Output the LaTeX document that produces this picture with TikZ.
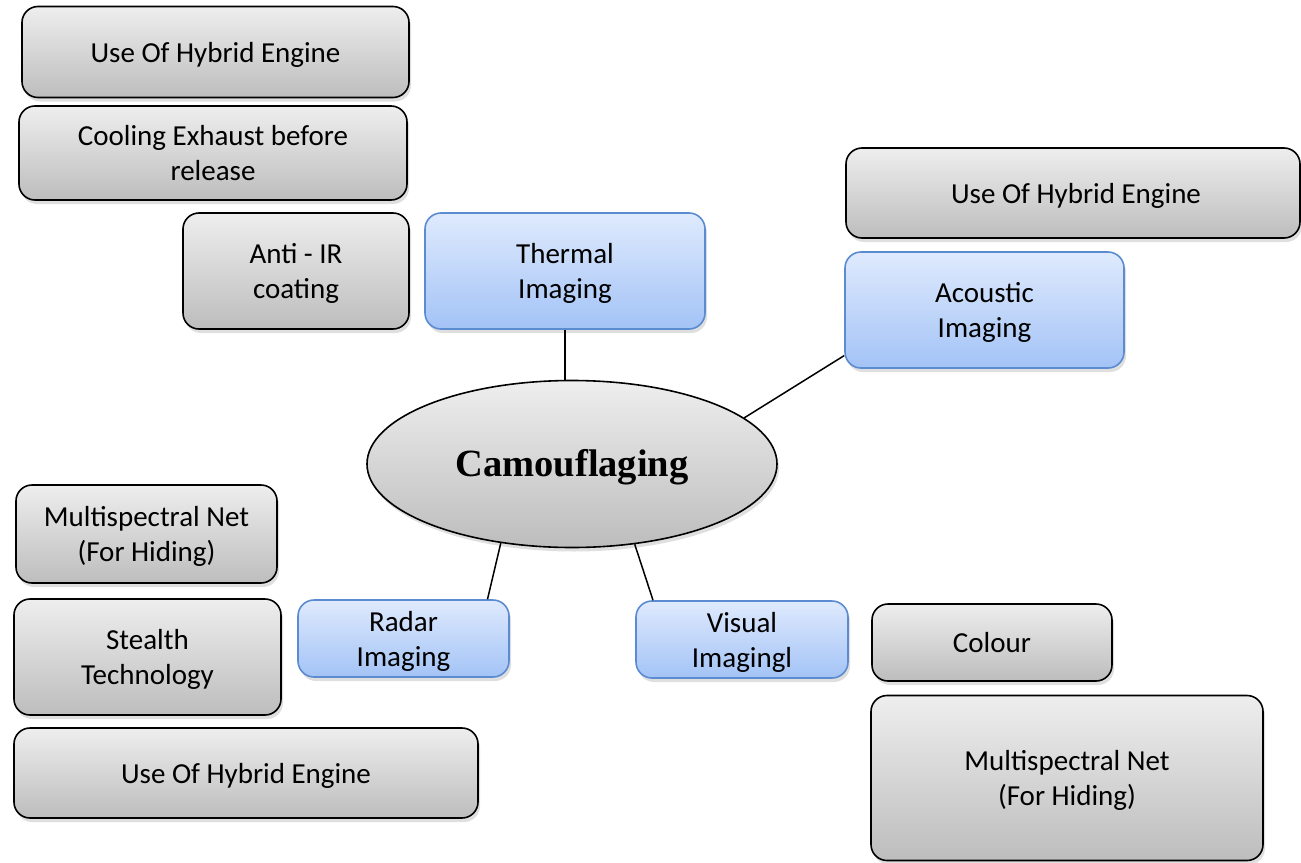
\documentclass[tikz,border=0pt]{standalone}
\usepackage{fontspec}
\setmainfont{Carlito}
\newfontfamily\camfont{Liberation Serif}
\usetikzlibrary{shapes.geometric,shadows,calc}
\definecolor{gtop}{HTML}{EEEEEE}
\definecolor{gbot}{HTML}{BDBDBD}
\definecolor{btop}{HTML}{DFEAFD}
\definecolor{bbot}{HTML}{A3C3F6}
\definecolor{bline}{HTML}{5B8BD0}
\newcommand\lowtxt[2][3pt]{\raisebox{-#1}[\height][\depth]{\begin{tabular}{@{}c@{}}#2\end{tabular}}}
\tikzset{
  base/.style={rectangle, rounded corners=16pt, align=center, inner sep=0pt,
    font=\fontsize{29}{35}\selectfont, text=black,
    drop shadow={opacity=0.25, shadow xshift=2pt, shadow yshift=-4pt}},
  gbox/.style={base, draw=black, line width=1.6pt, top color=gtop, bottom color=gbot},
  bbox/.style={base, draw=bline, line width=1.6pt, top color=btop, bottom color=bbot},
  conn/.style={draw=black, line width=1.5pt},
}
\begin{document}
\begin{tikzpicture}[x=1pt,y=-1pt]
\path[use as bounding box] (0,0) rectangle (1301,862);
% gray boxes
\node[gbox, minimum width=387pt, minimum height=91pt] (g1) at (215.5,52) {\lowtxt{Use Of Hybrid Engine}};
\node[gbox, minimum width=388pt, minimum height=94pt] (g2) at (213,153) {\lowtxt{Cooling Exhaust before\\release}};
\node[gbox, minimum width=226pt, minimum height=116pt] (g3) at (296,271) {\lowtxt{Anti - IR\\coating}};
\node[gbox, minimum width=454pt, minimum height=90pt] (g4) at (1073,193) {\lowtxt{\hspace{6pt}Use Of Hybrid Engine}};
\node[gbox, minimum width=261pt, minimum height=98pt] (g5) at (146.5,534) {\lowtxt{Multispectral Net\\(For Hiding)}};
\node[gbox, minimum width=267pt, minimum height=116pt] (g6) at (147.5,657) {\lowtxt{Stealth\\Technology}};
\node[gbox, minimum width=464pt, minimum height=90pt] (g7) at (246,773) {\lowtxt{Use Of Hybrid Engine}};
\node[gbox, minimum width=240pt, minimum height=77pt] (g8) at (992,642.5) {\lowtxt{Colour}};
\node[gbox, minimum width=392pt, minimum height=165pt] (g9) at (1067,778) {\lowtxt{Multispectral Net\\(For Hiding)}};
% blue boxes
\node[bbox, minimum width=280pt, minimum height=116pt] (thermal) at (565,271) {\lowtxt{Thermal\\Imaging}};
\node[bbox, minimum width=279pt, minimum height=116pt] (acoustic) at (984.5,310) {\lowtxt{Acoustic\\Imaging}};
\node[bbox, minimum width=211pt, minimum height=77pt] (radar) at (403.5,638.5) {\lowtxt{Radar\\Imaging}};
\node[bbox, minimum width=212pt, minimum height=77pt] (visual) at (742,639.5) {\lowtxt{Visual\\Imagingl}};
% centre
\node[ellipse, draw=black, line width=1.6pt, top color=gtop, bottom color=gbot,
  minimum width=410pt, minimum height=167pt, inner sep=0pt,
  drop shadow={opacity=0.25, shadow xshift=2pt, shadow yshift=-4pt},
  font=\camfont\bfseries\fontsize{38.5}{44}\selectfont] (camo) at (572,464) {\lowtxt[4pt]{Camouflaging}};
% connectors
\draw[conn] (thermal.south) -- (thermal.south |- camo.north);
\draw[conn] (camo.15) -- (acoustic.198);
\draw[conn] (camo.228) -- ([xshift=84pt]radar.north);
\draw[conn] (camo.308) -- ([xshift=-89pt]visual.north);
\end{tikzpicture}
\end{document}
